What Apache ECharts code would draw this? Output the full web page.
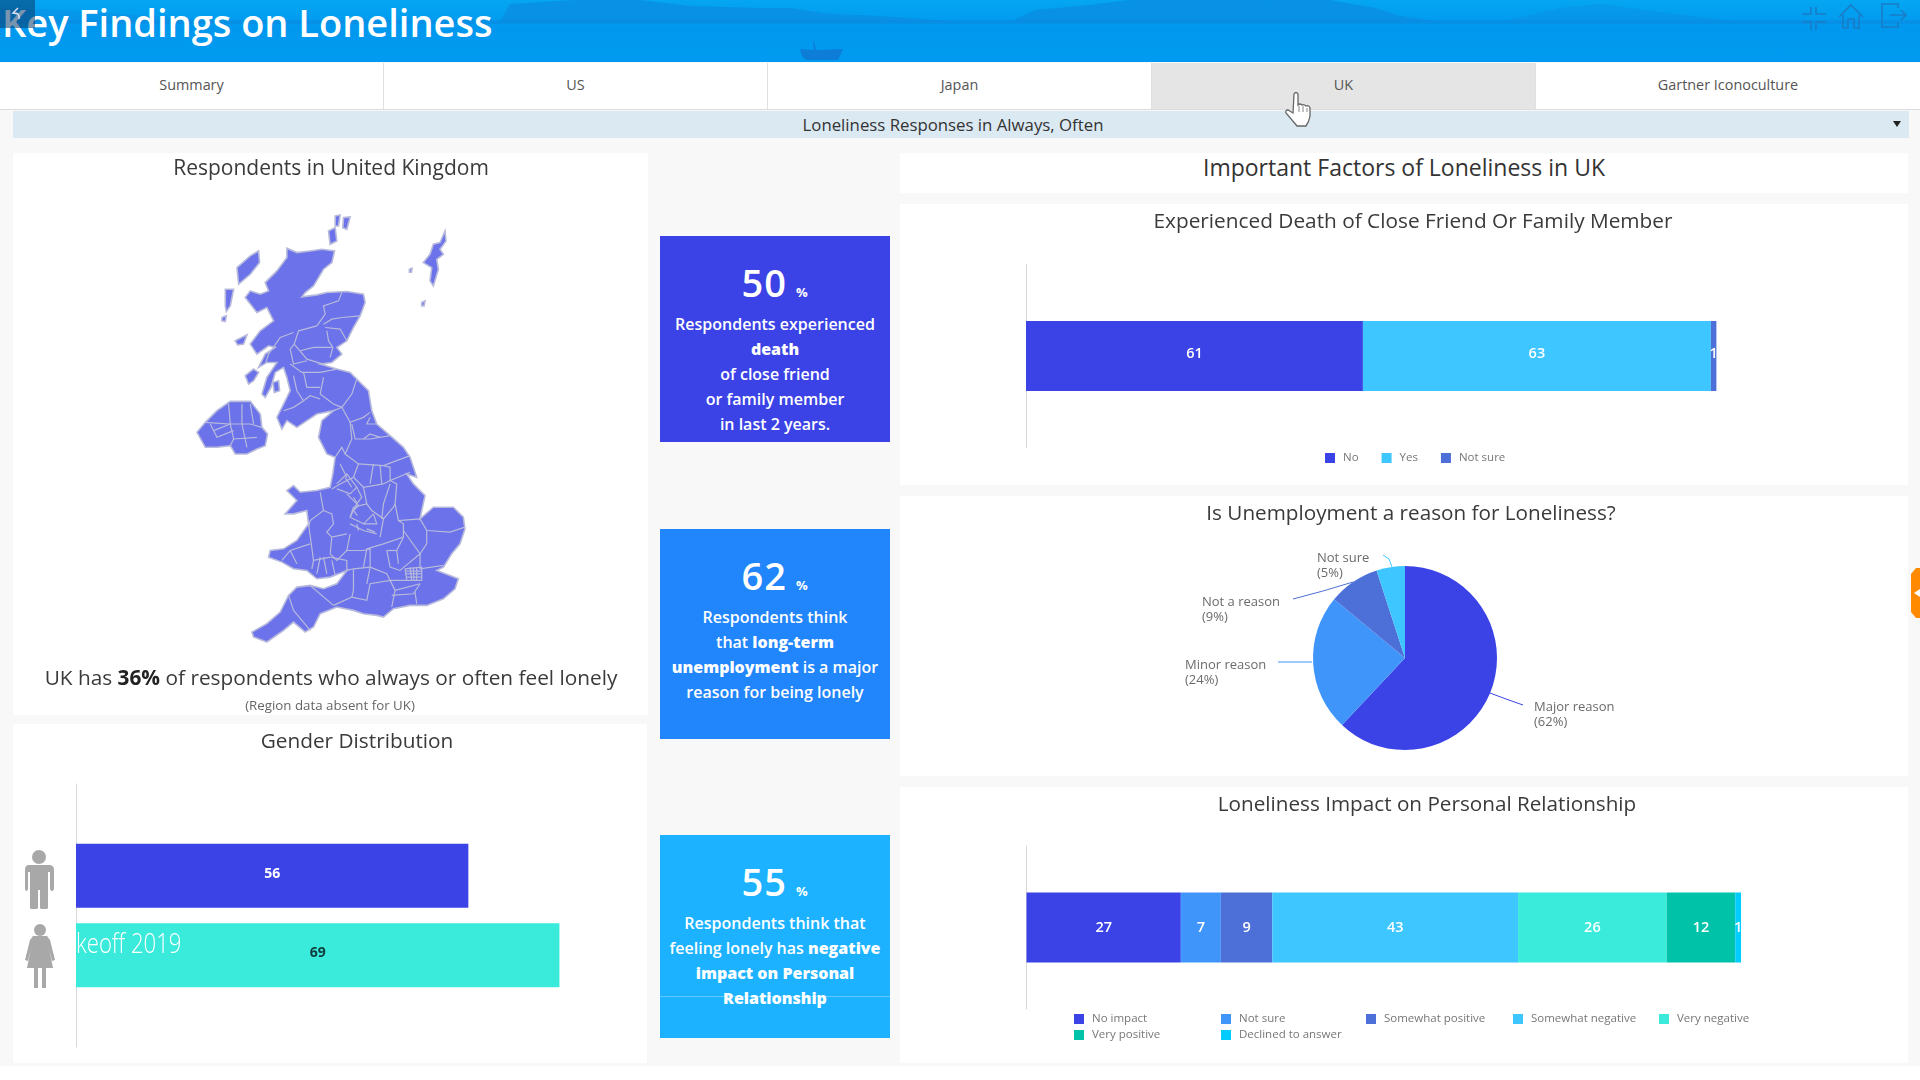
<!DOCTYPE html>
<html>
<head>
<meta charset="utf-8">
<title>Key Findings on Loneliness</title>
<script src="https://cdn.jsdelivr.net/npm/echarts@6/dist/echarts.min.js"></script>
<style>
html,body{margin:0;padding:0;width:1920px;height:1080px;overflow:hidden;background:#f8f8f9;font-family:"Open Sans",sans-serif;color:#444}
.abs{position:absolute}
.panel{position:absolute;background:#fff}
#header{left:0;top:0;width:1920px;height:62px;background:linear-gradient(#05a6f2,#0098ee 45%,#009bf0)}
#header svg{position:absolute;left:0;top:0}
#pagetitle{position:absolute;left:2px;top:-1px;line-height:46px;font-size:38px;font-weight:600;color:#fff;white-space:nowrap}
#back{position:absolute;left:0;top:0;width:35px;height:28px;background:rgba(10,60,110,.55)}
.tab{position:absolute;top:63px;width:384px;height:47px;line-height:44px;text-align:center;font-size:14.4px;color:#555;background:#fff;border-right:1px solid #e0e0e0;border-bottom:1px solid #dcdcdc;box-sizing:border-box}
.tab.on{background:#e5e5e5}
#filter{left:13px;top:111px;width:1896px;height:27px;line-height:28px;text-align:center;background:#dbe9f2;font-size:16.8px;color:#333}
#filter span{position:relative;left:-8px}
#caret{position:absolute;right:8px;top:10px;width:0;height:0;border-left:4px solid transparent;border-right:4px solid transparent;border-top:6px solid #222}
#factors{left:900px;top:153px;width:1008px;height:40px;line-height:28px;text-align:center;font-size:23px;color:#333}
.stat{position:absolute;left:660px;width:230px;color:#fff;text-align:center}
.stat .num{position:absolute;left:0;width:100%;top:26px;line-height:40px;font-size:38px;font-weight:600;letter-spacing:1px}
.stat .num small{font-size:13px;font-weight:700;margin-left:9px}
.stat p{position:absolute;left:0;width:100%;top:76px;margin:0;font-size:16px;line-height:25px;font-weight:600}
.stat p b{font-weight:800}
#bake{left:76px;top:925px;font-size:27px;font-weight:300;color:#fff;line-height:36px;white-space:nowrap;transform:scaleX(.82);transform-origin:0 0}
#overlay{position:absolute;left:0;top:0;pointer-events:none}
#foot{left:0;top:1066px;width:1920px;height:14px;background:#fff}
</style>
</head>
<body>

<div class="abs" id="header">
  <svg width="1920" height="62">
    <path d="M0 22 L0 8 L60 10 L240 22 Z" fill="#0a90e4" opacity=".5"/>
    <path d="M500 22 L510 4 L575 0 L640 0 L690 6 L760 8 L790 8 L830 14 L880 16 L960 22 Z" fill="#0a8de2" opacity=".8"/>
    <path d="M1010 22 L1035 10 L1080 6 L1130 0 L1330 0 L1375 8 L1400 16 L1440 22 Z" fill="#0a8de2" opacity=".8"/>
    <path d="M1500 22 L1560 8 L1600 4 L1660 12 L1740 22 Z" fill="#0a8de2" opacity=".45"/>
    <rect x="0" y="20" width="1920" height="4" fill="#0a8ae0" opacity=".6"/>
    <path d="M813 41 L814 50 L800 49 L802 56 L806 60 L838 60 L843 49 L816 50 L814 41 Z" fill="#1273cf" opacity=".75"/>
    <g fill="none" stroke="#1a7cc6" stroke-width="1.6">
      <path d="M1802 14 H1811 V7 M1826 14 H1816 V7 M1802 22 H1811 V30 M1826 22 H1816 V30"/>
      <path d="M1839 17 L1851 5 L1863 17 M1843 15 V28 H1848 V19 H1854 V28 H1859 V15"/>
      <path d="M1898 8 V4 H1882 V27 H1898 V22 M1890 15 H1906 M1901 10 L1906 15 L1901 20"/>
    </g>
  </svg>
  <div id="pagetitle">Key Findings on Loneliness</div>
  <div id="back"></div>
</div>

<div class="tab" style="left:0">Summary</div>
<div class="tab" style="left:384px">US</div>
<div class="tab" style="left:768px">Japan</div>
<div class="tab on" style="left:1152px">UK</div>
<div class="tab" style="left:1536px;border-right:0">Gartner Iconoculture</div>

<div class="abs" id="filter"><span>Loneliness Responses in Always, Often</span><div id="caret"></div></div>

<div class="panel" id="mapChart" style="left:13px;top:153px;width:635px;height:562px"></div>
<div class="panel" id="genderChart" style="left:13px;top:724px;width:634px;height:339px"></div>

<div class="stat" style="top:236px;height:206px;background:#3b43e6">
  <div class="num">50<small>%</small></div>
  <p>Respondents experienced<br><b>death</b><br>of close friend<br>or family member<br>in last 2 years.</p>
</div>
<div class="stat" style="top:529px;height:210px;background:#2185fb">
  <div class="num">62<small>%</small></div>
  <p>Respondents think<br>that <b>long-term</b><br><b>unemployment</b> is a major<br>reason for being lonely</p>
</div>
<div class="stat" style="top:835px;height:203px;background:#1cb2ff">
  <div class="num">55<small>%</small></div>
  <p>Respondents think that<br>feeling lonely has <b>negative</b><br><b>impact on Personal</b><br><b>Relationship</b></p>
  <div class="abs" style="left:0;top:161px;width:100%;height:1px;background:rgba(255,255,255,.3)"></div>
</div>

<div class="panel" id="factors">Important Factors of Loneliness in UK</div>
<div class="panel" id="deathChart" style="left:900px;top:204px;width:1008px;height:281px"></div>
<div class="panel" id="pieChart" style="left:900px;top:496px;width:1008px;height:280px"></div>
<div class="panel" id="impactChart" style="left:900px;top:787px;width:1008px;height:276px"></div>
<div class="abs" id="foot"></div>

<svg id="overlay" width="1920" height="1080">
  <!-- gender icons -->
  <g fill="#a8a8a8">
    <circle cx="39" cy="857" r="7"/>
    <path d="M29 865 H49 Q54 865 54 870 V888 Q54 891 52 891 Q50 891 50 888 V872 H48 V908 Q48 909 46 909 H42 Q40 909 40 908 V890 H38 V908 Q38 909 36 909 H32 Q30 909 30 908 V872 H28 V888 Q28 891 26 891 Q25 891 25 888 V870 Q25 865 29 865 Z"/>
    <circle cx="40" cy="930" r="6"/>
    <path d="M33 936 H47 L50 940 L55 960 L52 961 L49 948 L53 968 H46 V988 H42 V968 H38 V988 H34 V968 H27 L31 948 L28 961 L25 960 L30 940 Z"/>
  </g>
  <!-- orange side tab -->
  <path d="M1920 568 H1916 L1911 574 V612 L1916 618 H1920 Z" fill="#ff8a00"/>
  <path d="M1914 593 L1920 589 V597 Z" fill="#fff"/>
  <!-- back arrow -->
  <path d="M18 8 L13 13 L18 14 M13 13 Q20 12 19 19" fill="none" stroke="#dde" stroke-width="1.5"/>
  <!-- hand cursor -->
  <path d="M1294 94 Q1296 91 1298 94 L1298 105 Q1300 103 1302 105 Q1304 104 1306 106 Q1309 105 1310 108 L1310 116 Q1309 122 1306 126 H1297 L1286 113 Q1285 110 1288 110 L1293 113 Z" fill="#fff" stroke="#666" stroke-width="1.3"/>
  <path d="M1299 106 V112 M1303 106 V112 M1307 108 V112" fill="none" stroke="#888" stroke-width="1"/>
</svg>

<div class="abs" id="bake">keoff 2019</div>

<script>
// gender bars
var genderNames = ['Male', 'Female'];
var genderValues = [56, 69];

// death of close friend or family member
var deathNames = ['No', 'Yes', 'Not sure'];
var deathValues = [61, 63, 1];

// unemployment pie
var unempNames = ['Major reason', 'Minor reason', 'Not a reason', 'Not sure'];
var unempValues = [62, 24, 9, 5];

// impact on relationships
var impactNames = ['No impact', 'Not sure', 'Somewhat positive', 'Somewhat negative', 'Very negative', 'Very positive', 'Declined to answer'];
var impactValues = [27, 7, 9, 43, 26, 12, 1];

var blue = '#3b43e6', midBlue = '#4095fb', slate = '#4d70d8', sky = '#3dc6ff', aqua = '#3aeadb', teal = '#00c2a8', cyan = '#00ccff';
var titleColor = '#3a3a3a';
var fontName = '"Open Sans", sans-serif';

// UK shapes (own pixel space, y goes down)
var ukMainland = [[410,172],[440,185],[480,180],[515,175],[553,180],[545,215],[520,235],[490,285],[465,305],[455,318],[500,312],[530,305],[590,302],[640,310],[645,335],[630,375],[610,410],[590,450],[560,470],[575,490],[545,515],[510,520],[560,535],[600,545],[620,565],[655,600],[665,660],[680,700],[720,735],[760,770],[780,800],[800,860],[770,850],[790,880],[825,915],[815,960],[810,985],[850,950],[910,950],[940,980],[945,1015],[930,1060],[905,1090],[880,1130],[860,1140],[925,1165],[915,1195],[880,1225],[830,1245],[780,1245],[730,1255],[700,1280],[680,1275],[640,1270],[610,1260],[560,1250],[510,1270],[490,1310],[465,1325],[430,1295],[400,1320],[350,1355],[310,1340],[305,1325],[350,1300],[390,1265],[415,1215],[440,1190],[480,1185],[520,1195],[560,1180],[590,1140],[540,1160],[500,1165],[470,1140],[430,1135],[395,1115],[355,1100],[360,1080],[400,1075],[440,1050],[475,1000],[470,960],[430,970],[405,970],[440,930],[410,900],[430,885],[450,905],[500,900],[540,890],[548,850],[555,800],[530,790],[505,740],[515,690],[550,660],[500,670],[470,690],[440,710],[410,690],[395,715],[380,680],[400,640],[420,600],[410,560],[400,530],[375,545],[362,590],[345,620],[335,610],[350,560],[380,515],[350,515],[325,530],[345,490],[375,470],[355,465],[320,490],[300,460],[330,420],[370,390],[350,350],[320,365],[285,320],[300,300],[330,310],[355,300],[345,275],[380,240],[410,200]];
var ukNorthernIreland = [[140,725],[165,695],[200,660],[240,632],[300,632],[330,670],[335,710],[352,730],[345,765],[320,775],[290,790],[255,790],[240,765],[200,770],[165,770]];
var ukHebrides = [[260,230],[300,195],[325,180],[328,215],[300,250],[265,280]];
var ukUist = [[225,295],[250,295],[240,345],[228,362],[225,345]];
var ukBarra = [[215,380],[228,375],[225,392],[215,390]];
var ukOrkneyA = [[535,120],[555,110],[560,150],[540,160]];
var ukOrkneyB = [[555,75],[570,72],[565,105],[555,105]];
var ukOrkneyC = [[580,80],[600,78],[590,115],[578,110]];
var ukShetland = [[820,215],[840,190],[850,160],[870,155],[885,120],[888,150],[870,175],[880,190],[860,205],[865,235],[850,285],[840,270],[845,230]];
var ukFairIsle = [[778,235],[786,232],[784,244],[778,244]];
var ukFoula = [[815,335],[825,330],[822,345],[815,345]];
var ukSkye = [[255,450],[290,432],[280,460],[262,462]];
var ukIslay = [[285,555],[310,535],[325,545],[310,570],[295,580]];
var ukArran = [[368,575],[385,570],[388,600],[372,605]];
var ukBorders = [
  [[575,305],[565,330],[520,345],[525,370],[500,405]],
  [[630,375],[575,380],[545,385],[520,400]],
  [[500,405],[445,420],[432,460],[470,505],[520,520]],
  [[525,410],[570,415],[590,450]],
  [[530,420],[535,450],[548,470],[540,500]],
  [[432,460],[420,475],[430,520],[470,510]],
  [[430,425],[390,440],[355,490],[345,520]],
  [[420,520],[455,545],[510,545],[560,535]],
  [[430,555],[440,600],[460,630],[430,650],[400,660]],
  [[520,560],[510,610],[550,640],[575,650],[550,660]],
  [[460,630],[480,615],[510,625]],
  [[620,565],[605,610],[575,650],[600,695],[640,680],[660,665]],
  [[605,700],[615,745],[660,745],[720,735]],
  [[600,695],[605,745],[585,790],[625,820],[700,825],[780,795]],
  [[555,800],[575,770],[585,790]],
  [[625,820],[610,860],[570,880],[545,895]],
  [[700,825],[720,830],[720,870],[780,845]],
  [[720,870],[740,880],[735,940],[745,990],[810,985]],
  [[610,860],[640,890],[700,880],[720,870]],
  [[560,880],[590,850],[620,890],[600,910],[560,895]],
  [[585,860],[605,890]],
  [[510,905],[520,960],[480,990],[475,1010]],
  [[475,1000],[490,1110],[485,1135]],
  [[520,960],[545,970],[550,1000],[530,1025],[545,1040],[590,1030]],
  [[590,910],[620,940],[600,980],[640,1000],[670,970]],
  [[640,890],[650,940],[665,960],[700,985],[730,950],[735,940]],
  [[745,990],[760,1000],[760,1040],[700,1060],[650,1075]],
  [[810,985],[830,1020],[830,1060],[810,1090],[760,1020]],
  [[830,1020],[900,1025],[945,1010]],
  [[545,1040],[540,1090],[560,1110],[590,1080],[600,1030]],
  [[590,1080],[640,1080],[660,1075],[660,1130],[650,1180]],
  [[490,1110],[540,1100]],
  [[395,1110],[420,1080],[480,1060]],
  [[540,1100],[590,1110],[590,1140],[610,1135],[660,1130]],
  [[610,1135],[610,1200],[605,1220],[550,1245]],
  [[480,1185],[550,1245]],
  [[415,1215],[430,1260],[480,1320]],
  [[605,1220],[650,1230],[660,1180],[720,1170],[735,1200],[725,1250]],
  [[660,1130],[710,1150],[720,1170],[770,1170]],
  [[810,1180],[790,1210],[725,1215]],
  [[795,1205],[800,1240]],
  [[710,1080],[720,1130],[750,1140],[810,1090]],
  [[810,1090],[810,1135],[880,1125]],
  [[765,1135],[815,1130],[815,1170],[770,1170],[765,1135]],
  [[780,1130],[785,1170]],
  [[790,1130],[792,1170]],
  [[800,1130],[800,1170]],
  [[765,1150],[815,1150]],
  [[770,1160],[815,1160]],
  [[765,1142],[815,1142]],
  [[165,695],[240,700],[235,640]],
  [[240,700],[250,745],[240,765]],
  [[240,700],[300,700],[335,710]],
  [[275,640],[275,700],[290,770]],
  [[300,640],[310,700]],
  [[250,745],[320,740]],
  [[190,720],[240,700]],
  [[180,700],[200,740],[250,720]],
  [[620,890],[635,920],[620,940]],
  [[650,940],[610,950],[600,980]],
  [[670,970],[680,1000],[640,1000]],
  [[600,1000],[640,1020],[680,1030]],
  [[620,1000],[625,1020]],
  [[650,1015],[675,1025]],
  [[700,985],[690,1040]],
  [[720,880],[700,940],[695,985]],
  [[610,920],[625,945],[610,960],[622,975]],
  [[670,820],[660,880]],
  [[690,825],[695,880]],
  [[590,860],[570,820]],
  [[760,1040],[740,1080],[745,1120]],
  [[740,1080],[710,1080]],
  [[650,1075],[640,1130]],
  [[735,1200],[810,1180]],
  [[660,680],[650,700],[680,700]],
  [[640,745],[660,730],[690,740]],
  [[450,480],[490,470],[545,470]],
  [[460,545],[470,590],[510,590]],
  [[510,1100],[500,1150]],
  [[520,1100],[530,1150]],
  [[545,1110],[555,1155]],
  [[420,1080],[440,1120]]
];
var ukLands = {
  'Great Britain': ukMainland, 'Northern Ireland': ukNorthernIreland, 'Hebrides': ukHebrides, 'Uist': ukUist,
  'Barra': ukBarra, 'Orkney A': ukOrkneyA, 'Orkney B': ukOrkneyB, 'Orkney C': ukOrkneyC, 'Shetland': ukShetland,
  'Fair Isle': ukFairIsle, 'Foula': ukFoula, 'Skye': ukSkye, 'Islay': ukIslay, 'Arran': ukArran
};

echarts.registerMap('uk', {
  type: 'FeatureCollection',
  features: Object.keys(ukLands).map(function (name) {
    var ring = ukLands[name];
    return {
      type: 'Feature',
      properties: {name: name},
      geometry: {type: 'Polygon', coordinates: [ring.concat([ring[0]])]}
    };
  })
});

var mapChart = echarts.init(document.getElementById('mapChart'));
mapChart.setOption({
  animation: false,
  title: [
    {text: 'Respondents in United Kingdom', left: 313, top: 1, textAlign: 'center',
      textStyle: {fontFamily: fontName, fontSize: 21, fontWeight: 'normal', color: titleColor}},
    {text: 'UK has {b|36%} of respondents who always or often feel lonely', left: 313, top: 511, textAlign: 'center',
      textStyle: {fontFamily: fontName, fontSize: 20.8, fontWeight: 'normal', color: titleColor,
        rich: {b: {fontFamily: fontName, fontSize: 20.8, fontWeight: 'bold', color: '#222'}}}},
    {text: '(Region data absent for UK)', left: 312, top: 542, textAlign: 'center',
      textStyle: {fontFamily: fontName, fontSize: 13.3, fontWeight: 'normal', color: '#666'}}
  ],
  geo: {
    map: 'uk',
    projection: {project: function (p) { return p; }, unproject: function (p) { return p; }},
    left: 184, top: 62, width: 268, height: 427,
    silent: true,
    label: {show: false},
    itemStyle: {areaColor: '#6b72ea', borderColor: '#b7badb', borderWidth: 1.6}
  },
  series: [{
    type: 'lines',
    coordinateSystem: 'geo',
    polyline: true,
    silent: true,
    lineStyle: {color: '#b7badb', width: 1.2, opacity: 1},
    data: ukBorders.map(function (line) { return {coords: line}; })
  }]
});

var genderChart = echarts.init(document.getElementById('genderChart'));
var genderColors = [blue, aqua];
var genderLabels = ['#fff', '#123c3c'];
genderChart.setOption({
  animation: false,
  title: {text: 'Gender Distribution', left: 339, top: 3, textAlign: 'center',
    textStyle: {fontFamily: fontName, fontSize: 20.8, fontWeight: 'normal', color: titleColor}},
  grid: {left: 63, top: 60, width: 560.5, height: 263},
  xAxis: {type: 'value', show: false, min: 0, max: 80},
  yAxis: {type: 'category', inverse: true, data: ['Gender'], axisTick: {show: false}, axisLabel: {show: false},
    axisLine: {lineStyle: {color: '#d8d8d8'}}},
  series: genderNames.map(function (name, i) {
    return {
      name: name, type: 'bar', barWidth: 64, barGap: '24%', data: [genderValues[i]],
      itemStyle: {color: genderColors[i]},
      label: {show: true, position: 'inside', offset: [0, -2], fontFamily: fontName, fontSize: 14, fontWeight: 'bold', color: genderLabels[i]}
    };
  })
});

function stackedSeries(names, values, colors, barWidth, labelShift) {
  return names.map(function (name, i) {
    return {
      name: name, type: 'bar', stack: 'total', barWidth: barWidth, data: [values[i]],
      itemStyle: {color: colors[i]},
      label: {show: true, position: 'inside', offset: [0, labelShift], fontFamily: fontName, fontSize: 14.5, fontWeight: 600, color: '#fff'}
    };
  });
}

var deathChart = echarts.init(document.getElementById('deathChart'));
deathChart.setOption({
  animation: false,
  title: {text: 'Experienced Death of Close Friend Or Family Member', left: 508, top: 3, textAlign: 'center',
    textStyle: {fontFamily: fontName, fontSize: 20.8, fontWeight: 'normal', color: titleColor}},
  legend: {left: 420, top: 243, icon: 'rect', itemWidth: 10, itemHeight: 10, itemGap: 23,
    textStyle: {fontFamily: fontName, fontSize: 11.5, color: '#777', padding: [0, 0, 0, 3]}},
  grid: {left: 126, top: 60, width: 690.4, height: 184},
  xAxis: {type: 'value', show: false, min: 0, max: 125},
  yAxis: {type: 'category', data: ['Death'], axisTick: {show: false}, axisLabel: {show: false},
    axisLine: {lineStyle: {color: '#d8d8d8'}}},
  series: stackedSeries(deathNames, deathValues, [blue, sky, slate], 70, -2)
});

var pieChart = echarts.init(document.getElementById('pieChart'));
var pieColors = [blue, midBlue, slate, sky];
// label box top-left and leader line, by slice
var pieLabelPos = {
  'Major reason': {x: 634, y: 205, line: [[590, 197], [606, 203], [623, 209]]},
  'Minor reason': {x: 285, y: 163, line: [[378, 166], [395, 166], [412, 166]]},
  'Not a reason': {x: 302, y: 100, line: [[393, 103], [423, 95], [453, 86]]},
  'Not sure': {x: 417, y: 56, line: [[483, 59], [489, 63], [492, 71]]}
};
pieChart.setOption({
  animation: false,
  title: {text: 'Is Unemployment a reason for Loneliness?', left: 506, top: 3, textAlign: 'center',
    textStyle: {fontFamily: fontName, fontSize: 20.7, fontWeight: 'normal', color: titleColor}},
  series: [{
    type: 'pie', center: [505, 162], radius: [0, 92], startAngle: 90, clockwise: true,
    data: unempNames.map(function (name, i) {
      return {name: name, value: unempValues[i], itemStyle: {color: pieColors[i]}};
    }),
    label: {formatter: '{b}\n({d}%)', fontFamily: fontName, fontSize: 13, lineHeight: 15, color: '#6b6b6b', align: 'left'},
    labelLine: {show: true, lineStyle: {width: 1}},
    labelLayout: function (params) {
      var pos = pieLabelPos[unempNames[params.dataIndex]];
      return {x: pos.x, y: pos.y - 1, align: 'left', verticalAlign: 'top', labelLinePoints: pos.line};
    }
  }]
});

var impactChart = echarts.init(document.getElementById('impactChart'));
var legendLefts = [169, 316, 461, 608, 754, 169, 316];
var legendTops = [221, 221, 221, 221, 221, 237, 237];
impactChart.setOption({
  animation: false,
  title: {text: 'Loneliness Impact on Personal Relationship', left: 522, top: 3, textAlign: 'center',
    textStyle: {fontFamily: fontName, fontSize: 20.7, fontWeight: 'normal', color: titleColor}},
  legend: impactNames.map(function (name, i) {
    return {data: [name], left: legendLefts[i], top: legendTops[i], icon: 'rect', itemWidth: 10, itemHeight: 10,
      textStyle: {fontFamily: fontName, fontSize: 11.5, color: '#777', padding: [0, 0, 0, 3]}};
  }),
  grid: {left: 126.5, top: 59, width: 714.5, height: 163},
  xAxis: {type: 'value', show: false, min: 0, max: 125},
  yAxis: {type: 'category', data: ['Impact'], axisTick: {show: false}, axisLabel: {show: false},
    axisLine: {lineStyle: {color: '#d8d8d8'}}},
  series: stackedSeries(impactNames, impactValues, [blue, midBlue, slate, sky, aqua, teal, cyan], 70, 0)
});
</script>
</body>
</html>
